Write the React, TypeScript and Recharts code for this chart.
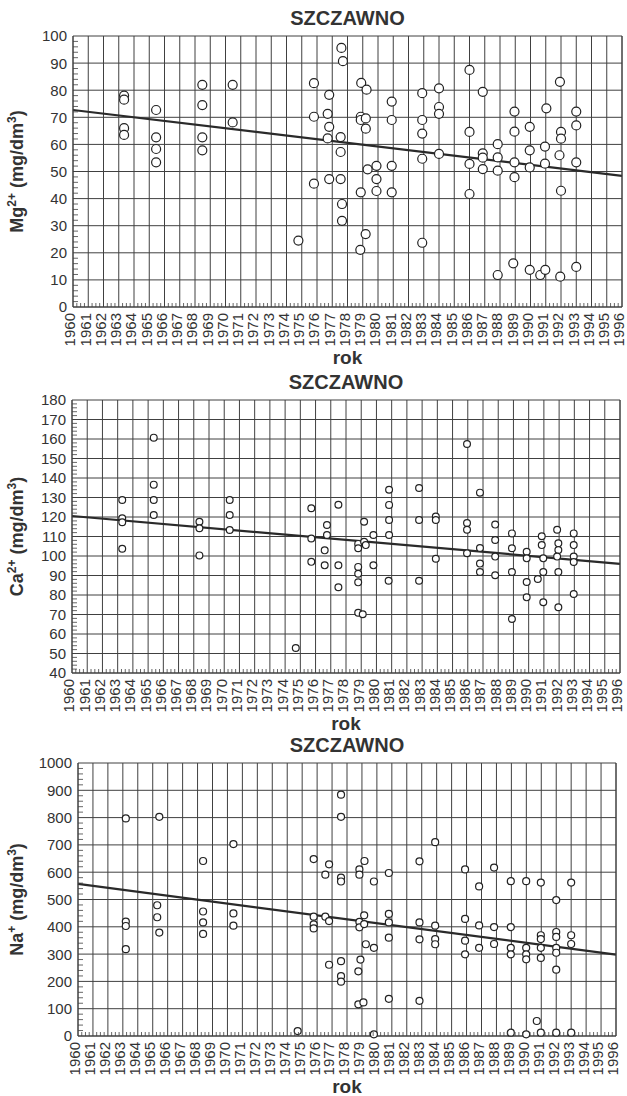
import { Label, ReferenceLine, Scatter, ScatterChart, XAxis, YAxis } from "recharts";

const FONT = '"Liberation Sans", Arial, sans-serif';
const INK = "#333";
const GRID = "#404040";

// year, value
const mgPoints: [number, number][] = [
  [1963.35, 78], [1963.35, 76.5], [1963.35, 66], [1963.35, 63.5],
  [1965.45, 72.7], [1965.45, 62.6], [1965.45, 58.3], [1965.45, 53.4],
  [1968.48, 82], [1968.48, 74.5], [1968.48, 62.6], [1968.48, 57.8],
  [1970.47, 82], [1970.47, 68.1],
  [1974.78, 24.5],
  [1975.8, 82.6], [1975.8, 70.2], [1975.8, 45.5],
  [1976.8, 78.3], [1976.7, 71.3], [1976.8, 66.5], [1976.7, 62.2], [1976.8, 47.2],
  [1977.6, 95.6], [1977.7, 90.7], [1977.55, 62.7], [1977.55, 57.2], [1977.55, 47.2], [1977.64, 38], [1977.64, 31.8],
  [1978.9, 82.7], [1979.25, 80.2], [1978.87, 70.2], [1978.87, 69], [1979.2, 69.6], [1979.2, 65.8],
  [1979.32, 50.8], [1978.87, 42.3], [1979.19, 26.9], [1978.84, 21.1],
  [1979.9, 52.1], [1979.9, 47.2], [1979.9, 42.8],
  [1980.9, 75.8], [1980.9, 69], [1980.9, 52.1], [1980.9, 42.3],
  [1982.9, 78.9], [1982.9, 69], [1982.9, 64], [1982.9, 54.7], [1982.9, 23.7],
  [1984.0, 80.7], [1984.0, 73.8], [1984.0, 71.3], [1984.0, 56.5],
  [1986.0, 87.5], [1986.0, 64.6], [1986.0, 52.8], [1986.0, 41.7],
  [1986.87, 79.4], [1986.87, 56.7], [1986.87, 55.1], [1986.87, 50.9],
  [1987.85, 60.1], [1987.85, 55.2], [1987.85, 50.3], [1987.85, 11.8],
  [1988.95, 72.1], [1988.95, 64.7], [1988.95, 53.4], [1988.95, 47.9], [1988.87, 16.1],
  [1989.95, 66.5], [1989.95, 57.8], [1989.95, 51.5], [1989.95, 13.7],
  [1990.95, 59.2], [1990.95, 52.9], [1991.04, 73.3], [1990.64, 11.8], [1990.97, 13.7],
  [1991.93, 83.1], [1992.0, 64.6], [1992.0, 62.1], [1991.9, 56], [1992.0, 42.9], [1991.95, 11.2],
  [1993.0, 72.1], [1993.0, 67], [1993.0, 53.4], [1993.0, 14.8],
];

const caPoints: [number, number][] = [
  [1963.3, 128.7], [1963.3, 119.3], [1963.3, 117.3], [1963.3, 103.7],
  [1965.37, 160.7], [1965.37, 136.6], [1965.37, 128.7], [1965.37, 121],
  [1968.37, 117.6], [1968.37, 114.2], [1968.37, 100.3],
  [1970.36, 128.7], [1970.36, 121], [1970.36, 113.3],
  [1974.7, 52.8],
  [1975.72, 124.5], [1975.72, 109], [1975.72, 97],
  [1976.75, 115.9], [1976.75, 110.8], [1976.6, 102.9], [1976.6, 95.2],
  [1977.5, 126.3], [1977.5, 95.2], [1977.5, 84],
  [1978.8, 106.2], [1978.8, 104], [1978.8, 94.4], [1978.8, 90.9], [1978.8, 86.5], [1978.8, 70.9],
  [1979.1, 70.1], [1979.19, 117.6], [1979.19, 107.3], [1979.3, 105.6],
  [1979.8, 110.8], [1979.8, 95.2],
  [1980.83, 134], [1980.83, 126.2], [1980.83, 118.5], [1980.83, 110.8], [1980.8, 87.3],
  [1982.8, 134.9], [1982.8, 118.5], [1982.8, 87.3],
  [1983.9, 120.2], [1983.9, 118.5], [1983.9, 98.6],
  [1985.95, 157.4], [1985.95, 116.9], [1985.95, 113.5], [1985.95, 101.4],
  [1986.8, 132.5], [1986.8, 104.1], [1986.8, 96.1], [1986.8, 91.8],
  [1987.8, 116.1], [1987.8, 108.2], [1987.8, 99.7], [1987.8, 90.1],
  [1988.9, 111.6], [1988.9, 104], [1988.9, 91.8], [1988.9, 67.7],
  [1989.87, 102.2], [1989.87, 98.8], [1989.87, 86.7], [1989.87, 78.8],
  [1990.6, 88.2], [1990.86, 110.1], [1990.86, 105.6], [1990.96, 98.8], [1990.96, 91.8], [1990.96, 76.3],
  [1991.87, 113.5], [1991.95, 106.5], [1991.95, 103.1], [1991.87, 99.7], [1991.95, 91.8], [1991.95, 73.7],
  [1992.96, 111.6], [1992.96, 105.6], [1992.96, 99.7], [1992.96, 96.9], [1992.96, 80.5],
];

const naPoints: [number, number][] = [
  [1963.2, 797], [1963.2, 419], [1963.2, 403], [1963.2, 318],
  [1965.44, 803], [1965.3, 479], [1965.3, 435], [1965.44, 379],
  [1968.37, 641], [1968.37, 456], [1968.37, 416], [1968.37, 374],
  [1970.4, 703], [1970.4, 449], [1970.4, 404],
  [1974.7, 18],
  [1975.77, 648], [1975.77, 437], [1975.77, 409], [1975.77, 394],
  [1976.55, 591], [1976.8, 629], [1976.55, 437], [1976.8, 421], [1976.8, 261],
  [1977.6, 884], [1977.6, 803], [1977.6, 580], [1977.6, 566], [1977.6, 274], [1977.6, 219], [1977.6, 199],
  [1979.17, 641], [1978.83, 610], [1978.83, 591], [1979.15, 442], [1978.83, 418], [1978.83, 398],
  [1979.15, 410], [1979.26, 336], [1978.9, 280], [1978.76, 237], [1978.76, 116], [1979.1, 123],
  [1979.8, 566], [1979.8, 323], [1979.8, 6],
  [1980.8, 597], [1980.8, 447], [1980.8, 416], [1980.8, 360], [1980.8, 136],
  [1982.85, 640], [1982.85, 416], [1982.85, 354], [1982.85, 129],
  [1983.9, 710], [1983.9, 404], [1983.9, 355], [1983.9, 336],
  [1985.9, 610], [1985.9, 429], [1985.9, 349], [1985.9, 299],
  [1986.84, 548], [1986.84, 405], [1986.84, 323],
  [1987.84, 617], [1987.84, 399], [1987.84, 337],
  [1988.96, 567], [1988.96, 399], [1988.96, 323], [1988.96, 299], [1988.96, 12],
  [1989.99, 567], [1989.99, 323], [1989.99, 299], [1989.99, 281], [1989.99, 6],
  [1990.97, 562], [1990.97, 369], [1990.97, 355], [1990.97, 323], [1990.97, 286], [1990.97, 12], [1990.7, 55],
  [1992.0, 498], [1992.0, 381], [1992.0, 363], [1992.0, 323], [1992.0, 305], [1992.0, 243], [1992.0, 12],
  [1993.0, 562], [1993.0, 369], [1993.0, 337], [1993.0, 12],
];

// trend line values at 1960 and 1996
const mgTrend = [72.7, 48.4];
const caTrend = [120.5, 96];
const naTrend = [557, 298];

const mgTicks = [0, 10, 20, 30, 40, 50, 60, 70, 80, 90, 100];
const caTicks = [40, 50, 60, 70, 80, 90, 100, 110, 120, 130, 140, 150, 160, 170, 180];
const naTicks = [0, 100, 200, 300, 400, 500, 600, 700, 800, 900, 1000];

const yearTicks = Array.from({ length: 37 }, (_, i) => 1960 + i);
const quarterTicks = Array.from({ length: 36 * 4 + 1 }, (_, i) => 1960 + i / 4);

const isMajor = (v: number, majors: number[]) => majors.some((m) => Math.abs(m - v) < 1e-6);

interface PanelProps {
  plotTop: number;
  plotBottom: number;
  plotLeft: number;
  plotRight: number;
  points: [number, number][];
  trend: number[];
  majors: number[];
  minorStep: number;
  label: [string, string][];
  r: number;
}

function Panel({ plotTop, plotBottom, plotLeft, plotRight, points, trend, majors, minorStep, label, r }: PanelProps) {
  const top = plotTop - 36;
  const axisH = 66;
  const height = plotBottom - top + axisH;
  const lo = majors[0];
  const hi = majors[majors.length - 1];
  const minors: number[] = [];
  for (let v = lo; v <= hi + 1e-6; v += minorStep) minors.push(v);
  const data = points.map(([x, y]) => ({ x, y }));
  const plotH = plotBottom - plotTop;
  const midX = (plotLeft + plotRight) / 2;

  return (
    <div style={{ position: "absolute", left: 0, top, width: 627, height }}>
      <div
        style={{
          position: "absolute",
          left: plotLeft,
          width: plotRight - plotLeft,
          top: 6,
          lineHeight: "24px",
          textAlign: "center",
          fontSize: 20,
          fontWeight: "bold",
          color: INK,
          fontFamily: FONT,
        }}
      >
        SZCZAWNO
      </div>
      <ScatterChart width={627} height={height} margin={{ top: 36, right: 0, bottom: 0, left: 0 }}>
        <XAxis
          dataKey="x"
          type="number"
          domain={[1960, 1996]}
          ticks={quarterTicks}
          interval={0}
          height={axisH}
          tickLine={false}
          tickSize={0}
          tickMargin={0}
          axisLine={{ stroke: GRID }}
          tick={(p: any) => {
            const v = p.payload.value;
            const major = Number.isInteger(v);
            const tx = p.x - 3;
            const ty = p.y + 6;
            return (
              <g>
                {!major && <line x1={p.x} x2={p.x} y1={p.y} y2={p.y - 4} stroke={GRID} strokeWidth={0.8} />}
                {major && (
                  <text
                    x={tx}
                    y={ty}
                    dy="0.36em"
                    textAnchor="end"
                    transform={`rotate(-90 ${tx} ${ty})`}
                    fontSize={15}
                    fill={INK}
                    fontFamily={FONT}
                  >
                    {v}
                  </text>
                )}
              </g>
            );
          }}
        >
          <Label
            content={() => (
              <text x={midX} y={plotH + 36 + 50} dy="0.36em" textAnchor="middle" fontSize={19} fontWeight="bold" fill={INK} fontFamily={FONT}>
                rok
              </text>
            )}
          />
        </XAxis>
        <YAxis
          dataKey="y"
          type="number"
          domain={[lo, hi]}
          ticks={minors}
          interval={0}
          width={plotLeft}
          tickLine={false}
          tickSize={0}
          tickMargin={0}
          axisLine={{ stroke: GRID }}
          tick={(p: any) => {
            const v = p.payload.value;
            const major = isMajor(v, majors);
            return (
              <g>
                {!major && <line x1={p.x} x2={p.x + 5} y1={p.y} y2={p.y} stroke={GRID} strokeWidth={0.8} />}
                {major && (
                  <text x={p.x - 6} y={p.y} dy="0.36em" textAnchor="end" fontSize={15} fill={INK} fontFamily={FONT}>
                    {v}
                  </text>
                )}
              </g>
            );
          }}
        >
          <Label
            content={() => {
              const cx = 23;
              const cy = 36 + plotH / 2;
              return (
                <text
                  x={cx}
                  y={cy}
                  dy="0.36em"
                  textAnchor="middle"
                  transform={`rotate(-90 ${cx} ${cy})`}
                  fontSize={18}
                  fontWeight="bold"
                  fill={INK}
                  fontFamily={FONT}
                >
                  {label.map(([main, sup], i) => {
                    const back = i > 0 && label[i - 1][1] ? 7 : 0;
                    return [
                      <tspan key={`m${i}`} dy={back}>
                        {main}
                      </tspan>,
                      sup ? (
                        <tspan key={`s${i}`} dy={-7} fontSize={12}>
                          {sup}
                        </tspan>
                      ) : null,
                    ];
                  })}
                </text>
              );
            }}
          />
        </YAxis>
        <YAxis
          yAxisId="right"
          orientation="right"
          type="number"
          domain={[lo, hi]}
          ticks={minors}
          interval={0}
          width={627 - plotRight}
          tickLine={false}
          tickSize={0}
          tickMargin={0}
          axisLine={{ stroke: GRID }}
          tick={(p: any) => {
            const major = isMajor(p.payload.value, majors);
            return major ? <g /> : <line x1={p.x} x2={p.x - 5} y1={p.y} y2={p.y} stroke={GRID} strokeWidth={0.8} />;
          }}
        />
        {majors.map((v) => (
          <ReferenceLine key={`h${v}`} y={v} stroke={GRID} strokeWidth={1} />
        ))}
        {yearTicks.map((yr) => (
          <ReferenceLine key={`v${yr}`} x={yr} stroke={GRID} strokeWidth={1} />
        ))}
        <ReferenceLine
          segment={[
            { x: 1960, y: trend[0] },
            { x: 1996, y: trend[1] },
          ]}
          stroke="#2a2a2a"
          strokeWidth={2.2}
        />
        <Scatter
          data={data}
          isAnimationActive={false}
          shape={(p: any) => <circle cx={p.cx} cy={p.cy} r={r} fill="#fff" stroke="#222" strokeWidth={1.2} />}
        />
      </ScatterChart>
    </div>
  );
}

export default function App() {
  return (
    <div style={{ position: "absolute", left: 0, top: 0, width: 627, height: 1096, background: "#fff" }}>
      <Panel
        plotTop={36}
        plotBottom={307}
        plotLeft={73}
        plotRight={622}
        points={mgPoints}
        trend={mgTrend}
        majors={mgTicks}
        minorStep={2}
        label={[["Mg", "2+"], [" (mg/dm", "3"], [")", ""]]}
        r={4.5}
      />
      <Panel
        plotTop={400}
        plotBottom={673}
        plotLeft={72}
        plotRight={620}
        points={caPoints}
        trend={caTrend}
        majors={caTicks}
        minorStep={2}
        label={[["Ca", "2+"], [" (mg/dm", "3"], [")", ""]]}
        r={3.4}
      />
      <Panel
        plotTop={763}
        plotBottom={1036}
        plotLeft={78}
        plotRight={616}
        points={naPoints}
        trend={naTrend}
        majors={naTicks}
        minorStep={20}
        label={[["Na", "+"], [" (mg/dm", "3"], [")", ""]]}
        r={3.5}
      />
    </div>
  );
}
